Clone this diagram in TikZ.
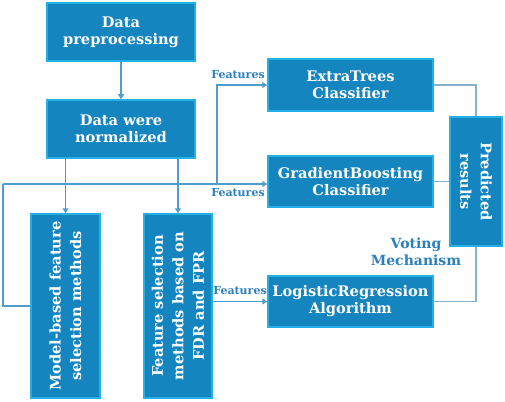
\documentclass[tikz,border=0pt]{standalone}
\usepackage{fontspec}
\setmainfont{DejaVu Serif}
\usetikzlibrary{arrows.meta}
\definecolor{boxfill}{HTML}{1585BF}
\definecolor{boxline}{HTML}{22B0E6}
\definecolor{conn}{HTML}{4F9CD0}
\definecolor{connr}{HTML}{86B2D0}
\definecolor{lbl}{HTML}{2C7FBF}
\begin{document}
\begin{tikzpicture}[x=1pt,y=-1pt,
  blk/.style={draw=boxline,line width=1.5pt,fill=boxfill,text=white,align=center,
    inner sep=0pt,font=\fontsize{14.6}{17}\selectfont\bfseries},
  rtxt/.style={text=white,align=center,font=\fontsize{14.6}{20.5}\selectfont\bfseries},
  wire/.style={draw=conn,line width=1.1pt},
  wirer/.style={draw=connr,line width=1.3pt},
  tip/.style={-{Triangle[width=6pt,length=5pt]}},
  flab/.style={text=lbl,font=\fontsize{11}{12}\selectfont\bfseries,inner sep=0pt},
]
\useasboundingbox (0,0) rectangle (505,401);
\node[blk,minimum width=148pt,minimum height=58pt] (b1) at (121,32) {Data\\preprocessing};
\node[blk,minimum width=148pt,minimum height=58pt] (b2) at (121,129) {Data were\\normalized};
\node[blk,minimum width=69pt,minimum height=184pt] (b3) at (65.5,306) {};
\node[rtxt,rotate=90] (t3) at (b3.center) {Model-based feature\\selection methods};
\node[blk,minimum width=68pt,minimum height=184pt] (b4) at (178,306) {};
\node[rtxt,rotate=90] (t4) at (b4.center) {Feature selection\\methods based on\\FDR and FPR};
\node[blk,minimum width=165pt,minimum height=52pt] (et) at (350.5,85) {ExtraTrees\\Classifier};
\node[blk,minimum width=165pt,minimum height=51pt] (gb) at (350.5,181.5) {GradientBoosting\\Classifier};
\node[blk,minimum width=165pt,minimum height=51pt] (lr) at (350.5,301.5) {LogisticRegression\\Algorithm};
\node[blk,minimum width=52pt,minimum height=129pt] (pr) at (476,181.5) {};
\node[rtxt,rotate=-90] (tp) at (pr.center) {Predicted\\results};
\node[text=lbl,align=center,font=\fontsize{14}{17}\selectfont\bfseries,inner sep=0pt] (vm) at (416,252) {Voting\\Mechanism};
\node[flab] (f1) at (238,75) {Features};
\node[flab] (f2) at (238,193) {Features};
\node[flab] (f3) at (240,291) {Features};
\coordinate (c1) at (3,184);
\coordinate (j) at (217,184);
% connectors
\draw[wire,tip] (b1) -- (b2);
\draw[wire,tip] (b3.north |- b2.south) -- (b3.north);
\draw[wire,tip] (b4.north |- b2.south) -- (b4.north);
\draw[wire] (b3.west) -| (c1);
\draw[wire,tip] (c1) -- (c1 -| gb.west);
\draw[wire,tip] (j) |- (et.west);
\draw[wire,tip] (b4.east |- lr.west) -- (lr.west);
\draw[wirer] (et.east) -| (pr.north);
\draw[wirer] (gb.east) -- (pr.west);
\draw[wirer] (lr.east) -| (pr.south);
\end{tikzpicture}
\end{document}
